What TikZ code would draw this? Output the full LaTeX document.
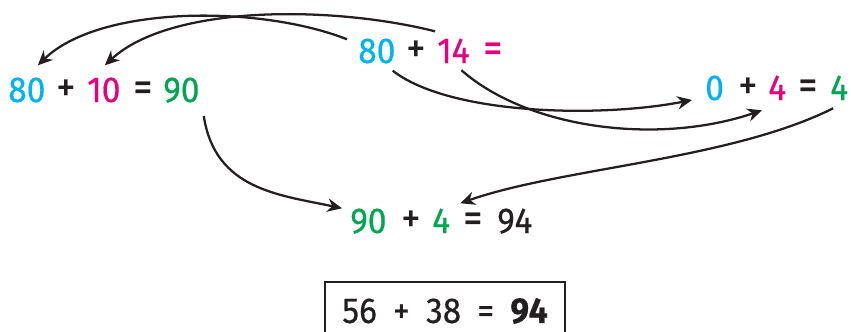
\documentclass[tikz,border=0pt]{standalone}
\usepackage{fontspec}
\setmainfont{Fira Sans}[FakeStretch=0.93, FakeBold=0.5]
\usetikzlibrary{arrows.meta}
\definecolor{mCyan}{HTML}{00B2EE}
\definecolor{mPink}{HTML}{E6007E}
\definecolor{mGreen}{HTML}{00A651}
\definecolor{mInk}{HTML}{231F20}
\newcommand\gap{\hspace{0.45em}}

\begin{document}
\begin{tikzpicture}[x=0.75pt, y=-0.75pt,
      n/.style={anchor=base west, inner sep=0pt, text=mInk, font=\fontsize{27}{32}\selectfont},
      op/.style={n, font=\fontsize{31}{36}\selectfont},
      a/.style={-{Stealth[length=11pt, width=10pt]}, line width=1.7pt, draw=mInk}]
    \useasboundingbox (0,0) rectangle (851,332);
    % left: 80 + 10 = 90
    \node[n, text=mCyan]  (l80)   at (8,102)   {80};
    \node[op]             (lplus) at (56,101)  {+};
    \node[n, text=mPink]  (l10)   at (87,102)  {10};
    \node[op]             (leq)   at (133,101) {=};
    \node[n, text=mGreen] (l90)   at (163,102) {90};
    % top: 80 + 14 =
    \node[n, text=mCyan]  (t80)   at (358,63)  {80};
    \node[op]             (tplus) at (406,62)  {+};
    \node[n, text=mPink]  (t14)   at (437,63)  {14};
    \node[op, text=mPink] (teq)   at (483,62)  {=};
    % right: 0 + 4 = 4
    \node[n, text=mCyan]  (r0)    at (705,100) {0};
    \node[op]             (rplus) at (738,99)  {+};
    \node[n, text=mPink]  (r4)    at (768,100) {4};
    \node[op]             (req)   at (798,99)  {=};
    \node[n, text=mGreen] (r4b)   at (830,100) {4};
    % middle: 90 + 4 = 94
    \node[n, text=mGreen] (m90)   at (350,233) {90};
    \node[op]             (mplus) at (401,232) {+};
    \node[n, text=mGreen] (m4)    at (432,233) {4};
    \node[op]             (meq)   at (463,232) {=};
    \node[n]              (m94)   at (497,233) {94};
    % answer
    \node[draw=mInk, line width=1.5pt, minimum width=180pt, minimum height=43.5pt,
          text=mInk, font=\fontsize{27}{32}\selectfont] (ans) at (445,311)
          {56\gap+\gap38\gap=\gap\textbf{94}};
    % arrows
    \draw[a] ([shift={(-11,1)}]t80.north west) .. controls (260,5) and (100,5) .. ([shift={(11,-12)}]l80.north);
    \draw[a] ([shift={(-2,-7)}]t14.north west) .. controls (330,5) and (170,5) .. ([shift={(1,-12)}]l10.north);
    \draw[a] ([shift={(-3,7)}]t80.south east) .. controls (450,115) and (600,118) .. ([shift={(-13,0)}]r0.base west);
    \draw[a] ([shift={(8,7)}]t14.south) .. controls (530,130) and (660,145) .. ([shift={(-6,10)}]r4.south west);
    \draw[a] ([shift={(4,13)}]l90.south east) .. controls (215,190) and (280,195) .. ([shift={(-8,0)}]m90.north west);
    \draw[a] ([shift={(-6,8)}]r4b.south) .. controls (730,160) and (560,168) .. ([shift={(10,-5)}]m4.north east);
\end{tikzpicture}
\end{document}
